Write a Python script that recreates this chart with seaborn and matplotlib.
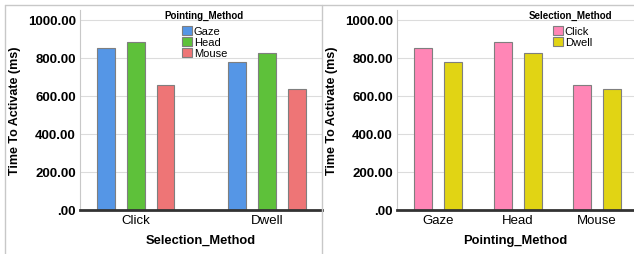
import pandas as pd
import seaborn as sns
import matplotlib.pyplot as plt
from matplotlib.lines import Line2D
from matplotlib.ticker import FuncFormatter, MultipleLocator

# Data (mean time to activate, ms)
selection_methods = ["Click", "Dwell"]
pointing_methods = ["Gaze", "Head", "Mouse"]
click_ms = [851, 883, 655]
dwell_ms = [779, 823, 634]

pointing_colors = ["#5596E6", "#5EC13A", "#EE7576"]
selection_colors = ["#FF86B6", "#E1D414"]

rows = []
for p, c, d in zip(pointing_methods, click_ms, dwell_ms):
    rows.append({"Selection_Method": "Click", "Pointing_Method": p, "ms": c})
    rows.append({"Selection_Method": "Dwell", "Pointing_Method": p, "ms": d})
df = pd.DataFrame(rows)

sns.set_theme(style="white")
plt.rcParams["font.family"] = ["Liberation Sans", "DejaVu Sans"]
plt.rcParams["text.color"] = "black"
plt.rcParams["axes.labelcolor"] = "black"
plt.rcParams["xtick.color"] = "black"
plt.rcParams["ytick.color"] = "black"

W, H = 634, 255
fig = plt.figure(figsize=(W / 100, H / 100), dpi=100)


def px_axes(x0, x1, ytop, ybot):
    return fig.add_axes([x0 / W, 1 - ybot / H, (x1 - x0) / W, (ybot - ytop) / H])


def fmt(v, pos):
    s = f"{v:.2f}"
    return s[1:] if s.startswith("0") else s


def style_axis(ax, xlabel):
    ax.set_ylim(0, 1052)
    ax.yaxis.set_major_locator(MultipleLocator(200))
    ax.yaxis.set_major_formatter(FuncFormatter(fmt))
    ax.grid(axis="y", color="#dcdcdc", lw=0.8)
    ax.set_axisbelow(True)
    for s in ["top", "right"]:
        ax.spines[s].set_visible(False)
    ax.spines["left"].set_color("#c8c8c8")
    ax.spines["left"].set_linewidth(0.8)
    ax.spines["bottom"].set_color("#333333")
    ax.spines["bottom"].set_linewidth(2.0)
    ax.tick_params(axis="both", length=0, pad=3)
    for t in ax.get_yticklabels():
        t.set_fontsize(9.5)
        t.set_fontweight("bold")
    for t in ax.get_xticklabels():
        t.set_fontsize(9.5)
    ax.set_ylabel("Time To Activate (ms)", fontsize=9, fontweight="bold", labelpad=5)
    ax.set_xlabel(xlabel, fontsize=9.3, fontweight="bold", labelpad=6)


def place_legend(ax, title, title_x, x, y):
    handles, labels = ax.get_legend_handles_labels()
    ax.legend(handles, labels, loc="upper left",
              bbox_to_anchor=(x / W, 1 - y / H), bbox_transform=fig.transFigure,
              frameon=False, fontsize=8,
              handlelength=0.9, handleheight=0.9, handletextpad=0.15,
              labelspacing=0.05, borderpad=0, borderaxespad=0)
    fig.text(title_x / W, 1 - 16 / H, title, ha="center", va="center",
             fontsize=7, fontweight="bold")


# Left panel: grouped by selection method
ax1 = px_axes(80, 321.5, 11, 210.7)
sns.barplot(data=df, x="Selection_Method", y="ms", hue="Pointing_Method",
            order=selection_methods, hue_order=pointing_methods,
            palette=pointing_colors, saturation=1, width=0.684, gap=0.4,
            edgecolor="#7f7f7f", linewidth=0.8, errorbar=None, ax=ax1)
ax1.set_xlim(-0.422, 1.414)
style_axis(ax1, "Selection_Method")
place_legend(ax1, "Pointing_Method", 204, 182, 27)

# Right panel: grouped by pointing method
ax2 = px_axes(397, 634, 11, 210.7)
sns.barplot(data=df, x="Pointing_Method", y="ms", hue="Selection_Method",
            order=pointing_methods, hue_order=selection_methods,
            palette=selection_colors, saturation=1, width=0.755, gap=0.4,
            edgecolor="#7f7f7f", linewidth=0.8, errorbar=None, ax=ax2)
ax2.set_xlim(-0.516, 2.465)
style_axis(ax2, "Pointing_Method")
place_legend(ax2, "Selection_Method", 570, 553, 27)

# panel borders
border = dict(color="#c8c8c8", lw=1.0, transform=fig.transFigure)
fig.add_artist(Line2D([5 / W, 1], [1 - 6 / H, 1 - 6 / H], **border))
fig.add_artist(Line2D([5 / W, 5 / W], [0, 1 - 6 / H], **border))
fig.add_artist(Line2D([322 / W, 322 / W], [0, 1 - 6 / H], **border))

fig.savefig("out.png", dpi=100, facecolor="white")
